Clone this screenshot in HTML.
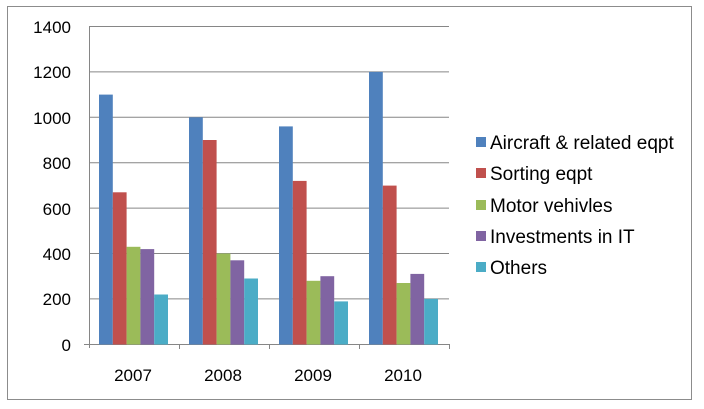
<!DOCTYPE html><html><head><style>body{margin:0;background:#fff}svg{display:block;font-family:"Liberation Sans",Arial,sans-serif}</style></head><body>
<svg width="704" height="409" xmlns="http://www.w3.org/2000/svg">
<rect x="7.5" y="6.5" width="684" height="393" fill="#fff" stroke="#8c8c8c"/>
<g stroke="#868686" stroke-width="1">
<line x1="89" x2="449" y1="26.5" y2="26.5"/><line x1="89" x2="449" y1="71.9" y2="71.9"/><line x1="89" x2="449" y1="117.3" y2="117.3"/><line x1="89" x2="449" y1="162.7" y2="162.7"/><line x1="89" x2="449" y1="208.1" y2="208.1"/><line x1="89" x2="449" y1="253.5" y2="253.5"/><line x1="89" x2="449" y1="298.9" y2="298.9"/>
</g>
<g stroke="#868686"><line x1="89.5" x2="89.5" y1="26" y2="348"/><line x1="84" x2="449" y1="344.5" y2="344.5"/>
<line x1="179.5" x2="179.5" y1="344" y2="349"/><line x1="269.5" x2="269.5" y1="344" y2="349"/><line x1="359.5" x2="359.5" y1="344" y2="349"/><line x1="449.5" x2="449.5" y1="344" y2="349"/></g>
<g font-size="17" fill="#000" text-anchor="end">
<text x="71" y="33">1400</text><text x="71" y="78">1200</text><text x="71" y="124">1000</text><text x="71" y="169">800</text><text x="71" y="215">600</text><text x="71" y="260">400</text><text x="71" y="305">200</text><text x="71" y="351">0</text></g>
<g font-size="17" text-anchor="middle"><text x="133" y="381">2007</text><text x="223" y="381">2008</text><text x="313" y="381">2009</text><text x="403" y="381">2010</text></g>
<g font-size="19">
<rect x="476" y="137" width="10" height="10" fill="#4f81bd"/><text x="490" y="149">Aircraft &amp; related eqpt</text>
<rect x="476" y="168" width="10" height="10" fill="#c0504d"/><text x="490" y="180">Sorting eqpt</text>
<rect x="476" y="200" width="10" height="10" fill="#9bbb59"/><text x="490" y="212">Motor vehivles</text>
<rect x="476" y="231" width="10" height="10" fill="#8064a2"/><text x="490" y="243">Investments in IT</text>
<rect x="476" y="262" width="10" height="10" fill="#4bacc6"/><text x="490" y="274">Others</text>
</g>
<g>
<rect x="99" y="94.6" width="13.8" height="249.9" fill="#4f81bd"/><rect x="112.8" y="192.3" width="13.8" height="152.2" fill="#c0504d"/><rect x="126.6" y="246.8" width="13.8" height="97.7" fill="#9bbb59"/><rect x="140.4" y="249.1" width="13.8" height="95.4" fill="#8064a2"/><rect x="154.2" y="294.5" width="13.8" height="50" fill="#4bacc6"/>
<rect x="189" y="117.3" width="13.8" height="227.2" fill="#4f81bd"/><rect x="202.8" y="140" width="13.8" height="204.5" fill="#c0504d"/><rect x="216.6" y="253.5" width="13.8" height="91" fill="#9bbb59"/><rect x="230.4" y="260.3" width="13.8" height="84.2" fill="#8064a2"/><rect x="244.2" y="278.5" width="13.8" height="66" fill="#4bacc6"/>
<rect x="279" y="126.4" width="13.8" height="218.1" fill="#4f81bd"/><rect x="292.8" y="180.9" width="13.8" height="163.6" fill="#c0504d"/><rect x="306.6" y="280.8" width="13.8" height="63.7" fill="#9bbb59"/><rect x="320.4" y="276.2" width="13.8" height="68.3" fill="#8064a2"/><rect x="334.2" y="301.4" width="13.8" height="43.1" fill="#4bacc6"/>
<rect x="369" y="71.9" width="13.8" height="272.6" fill="#4f81bd"/><rect x="382.8" y="185.6" width="13.8" height="158.9" fill="#c0504d"/><rect x="396.6" y="283" width="13.8" height="61.5" fill="#9bbb59"/><rect x="410.4" y="273.9" width="13.8" height="70.6" fill="#8064a2"/><rect x="424.2" y="298.9" width="13.8" height="45.6" fill="#4bacc6"/>
</g>
</svg></body></html>
